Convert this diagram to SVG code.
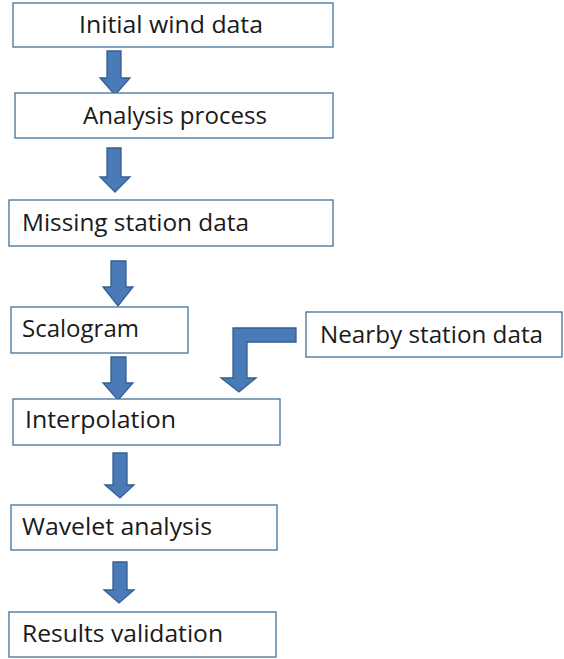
<svg xmlns="http://www.w3.org/2000/svg" width="564" height="659" viewBox="0 0 564 659">
<style>
.box{fill:#fff;stroke:#41719c;stroke-width:1.3}
.t{font-family:"Open Sans","Liberation Sans",sans-serif;font-size:23px;fill:#1a1a1a}
.arr{fill:#4a7ab8;stroke:#355f91;stroke-width:1.3;stroke-linejoin:miter}
</style>
<rect width="564" height="659" fill="#fff"/>
<g id="connectors">
<path class="arr" d="M107,51 H121 V78 H130 L115,95 L100,78 H107 Z"/>
<path class="arr" d="M107,148 H121 V177 H130 L115,192 L100,177 H107 Z"/>
<path class="arr" d="M111,261 H126 V287 H133 L118,306 L103,287 H111 Z"/>
<path class="arr" d="M111,357 H126 V383 H133 L118,400 L103,383 H111 Z"/>
<path class="arr" d="M296,328 V342 H247 V378 H256 L239,392 L221,378 H233 V328 Z"/>
<path class="arr" d="M113,453 H127 V485 H134 L120,498 L105,485 H113 Z"/>
<path class="arr" d="M113,562 H127 V590 H134 L119,603 L104,590 H113 Z"/>
</g>
<g id="n1"><rect class="box" x="13" y="3" width="320" height="44"/><text class="t" x="79" y="33" textLength="184" lengthAdjust="spacingAndGlyphs">Initial wind data</text></g>
<g id="n2"><rect class="box" x="15" y="93" width="318" height="45"/><text class="t" x="83" y="124" textLength="184" lengthAdjust="spacingAndGlyphs">Analysis process</text></g>
<g id="n3"><rect class="box" x="9" y="200" width="324" height="46"/><text class="t" x="22" y="231" textLength="227" lengthAdjust="spacingAndGlyphs">Missing station data</text></g>
<g id="n4"><rect class="box" x="11" y="307" width="177" height="46"/><text class="t" x="22" y="337" textLength="117" lengthAdjust="spacingAndGlyphs">Scalogram</text></g>
<g id="n5"><rect class="box" x="306" y="312" width="256" height="45"/><text class="t" x="320" y="343" textLength="223" lengthAdjust="spacingAndGlyphs">Nearby station data</text></g>
<g id="n6"><rect class="box" x="13" y="399" width="267" height="46"/><text class="t" x="25" y="428" textLength="151" lengthAdjust="spacingAndGlyphs">Interpolation</text></g>
<g id="n7"><rect class="box" x="11" y="505" width="266" height="45"/><text class="t" x="22" y="535" textLength="190" lengthAdjust="spacingAndGlyphs">Wavelet analysis</text></g>
<g id="n8"><rect class="box" x="9" y="612" width="267" height="45"/><text class="t" x="22" y="642" textLength="201" lengthAdjust="spacingAndGlyphs">Results validation</text></g>
</svg>
